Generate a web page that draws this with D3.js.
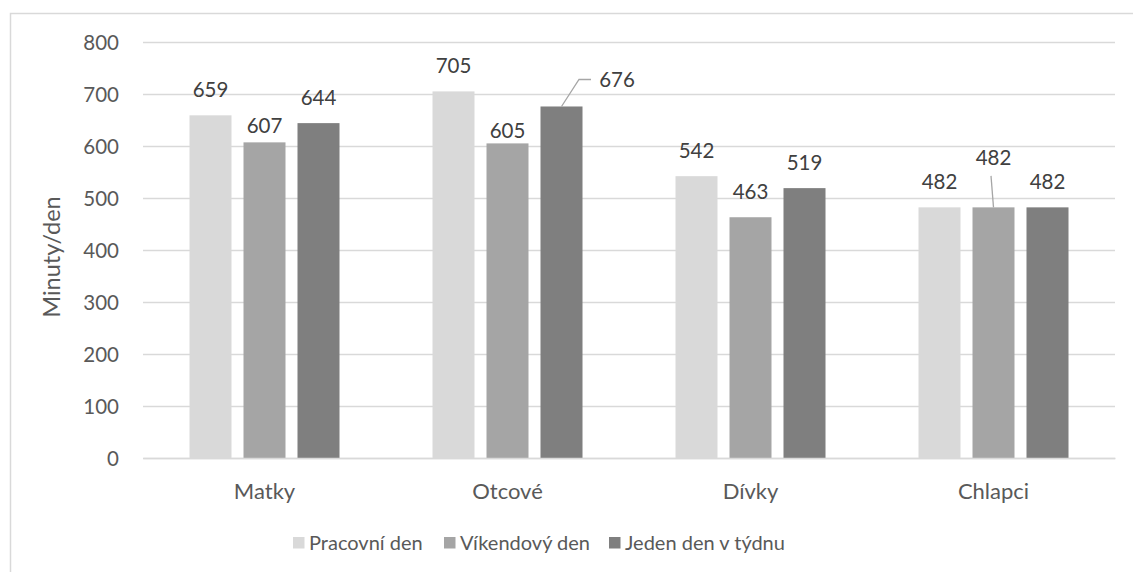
<!DOCTYPE html>
<html>
<head>
<meta charset="utf-8">
<script src="https://cdn.jsdelivr.net/npm/d3@7"></script>
<style>
  body { margin: 0; background: #fff; }
  svg { display: block; font-family: Lato, 'Open Sans', sans-serif; }
</style>
</head>
<body>
<svg width="1133" height="572"></svg>
<script>
const categories = ['Matky', 'Otcové', 'Dívky', 'Chlapci']
const seriesNames = ['Pracovní den', 'Víkendový den', 'Jeden den v týdnu']
const pracovniDen = [659, 705, 542, 482]
const vikendovyDen = [607, 605, 463, 482]
const jedenDen = [644, 676, 519, 482]
const yTicks = [0, 100, 200, 300, 400, 500, 600, 700, 800]
const yTitle = 'Minuty/den'

const colors = ['#d9d9d9', '#a5a5a5', '#7f7f7f']
const textColor = '#595959'
const labelColor = '#404040'
const gridColor = '#d9d9d9'

// manual label moves, like the ones made in the original (series, category)
const labelMoves = [
  { s: 1, c: 0, dx: 0, dy: 9 },
  { s: 1, c: 1, dx: 0, dy: 12.5 },
  { s: 2, c: 1, dx: 55.5, dy: -1, leader: 'elbow' },
  { s: 1, c: 3, dx: 0, dy: -24.5, leader: 'straight' }
]

const svg = d3.select('svg')
const width = +svg.attr('width')
const height = +svg.attr('height')

const margin = { top: 42, right: 18, bottom: 114, left: 143 }

const values = [pracovniDen, vikendovyDen, jedenDen]
const data = []
categories.forEach((c, ci) => {
  seriesNames.forEach((s, si) => {
    data.push({ c, ci, s, si, v: values[si][ci] })
  })
})

// outer frame
svg.append('rect')
  .attr('x', 10.5).attr('y', 13.5)
  .attr('width', width + 20).attr('height', height + 20)
  .attr('fill', 'none')
  .attr('stroke', gridColor)
  .attr('stroke-width', 1.5)

const xScale = d3.scaleBand()
  .domain(categories)
  .range([margin.left, width - margin.right])

const xInner = d3.scaleBand()
  .domain(seriesNames)
  .range([0, xScale.bandwidth()])
  .paddingInner(12 / 54)
  .paddingOuter(0.861)

const yScale = d3.scaleLinear()
  .domain([0, 800])
  .range([height - margin.bottom, margin.top])

// gridlines
const yAxis = d3.axisLeft(yScale)
  .tickValues(yTicks)
  .tickSize(-(width - margin.left - margin.right))
  .tickPadding(24)

const yG = svg.append('g')
  .attr('transform', `translate(${margin.left},0)`)
  .call(yAxis)
yG.select('.domain').remove()
yG.selectAll('.tick line')
  .attr('stroke', gridColor)
  .attr('stroke-width', 1.5)
yG.selectAll('.tick text')
  .attr('fill', textColor)
  .style('font-size', '20.5px')
  .style('font-family', 'Lato, sans-serif')
  .attr('dy', '0.35em')

// y title
svg.append('text')
  .text(yTitle)
  .attr('transform', `translate(60,${yScale(400) + 7}) rotate(-90)`)
  .attr('text-anchor', 'middle')
  .attr('fill', textColor)
  .style('font-size', '23.5px')

// bars
svg.append('g')
  .selectAll('rect')
  .data(data)
  .enter().append('rect')
    .attr('x', d => xScale(d.c) + xInner(d.s))
    .attr('y', d => yScale(d.v))
    .attr('width', xInner.bandwidth())
    .attr('height', d => yScale(0) - yScale(d.v))
    .attr('fill', d => colors[d.si])

// x axis
const xAxis = d3.axisBottom(xScale).tickSize(0).tickPadding(25)
const xG = svg.append('g')
  .attr('transform', `translate(0,${yScale(0)})`)
  .call(xAxis)
xG.select('.domain')
  .attr('stroke', gridColor)
  .attr('stroke-width', 1.5)
xG.selectAll('.tick text')
  .attr('fill', textColor)
  .style('font-size', '22px')
  .style('font-family', 'Lato, sans-serif')

// data labels
const moveOf = d => labelMoves.find(m => m.s === d.si && m.c === d.ci) || { dx: 0, dy: 0 }
const labels = svg.append('g')
data.forEach(d => {
  const m = moveOf(d)
  const cx = xScale(d.c) + xInner(d.s) + xInner.bandwidth() / 2
  const top = yScale(d.v)
  const lx = cx + m.dx
  const ly = top - 18 + m.dy
  if (m.leader === 'elbow') {
    labels.append('path')
      .attr('d', `M${cx},${top} L${lx - 38},${ly - 8} L${lx - 26},${ly - 8}`)
      .attr('fill', 'none')
      .attr('stroke', '#a6a6a6')
      .attr('stroke-width', 1.3)
  } else if (m.leader === 'straight') {
    labels.append('path')
      .attr('d', `M${lx - 2.5},${ly + 11} L${cx},${top}`)
      .attr('fill', 'none')
      .attr('stroke', '#a6a6a6')
      .attr('stroke-width', 1.3)
  }
  labels.append('text')
    .text(d.v)
    .attr('x', lx)
    .attr('y', ly)
    .attr('text-anchor', 'middle')
    .attr('fill', labelColor)
    .style('font-size', '20.5px')
})

// legend
const legendX = [293, 444, 609]
const legend = svg.append('g')
  .selectAll('g')
  .data(seriesNames)
  .enter().append('g')
    .attr('transform', (d, i) => `translate(${legendX[i]},537)`)
legend.append('rect')
  .attr('width', 11.5).attr('height', 11.5)
  .attr('fill', (d, i) => colors[i])
legend.append('text')
  .text(d => d)
  .attr('x', 16)
  .attr('y', 13)
  .attr('fill', textColor)
  .style('font-size', '20px')
</script>
</body>
</html>
